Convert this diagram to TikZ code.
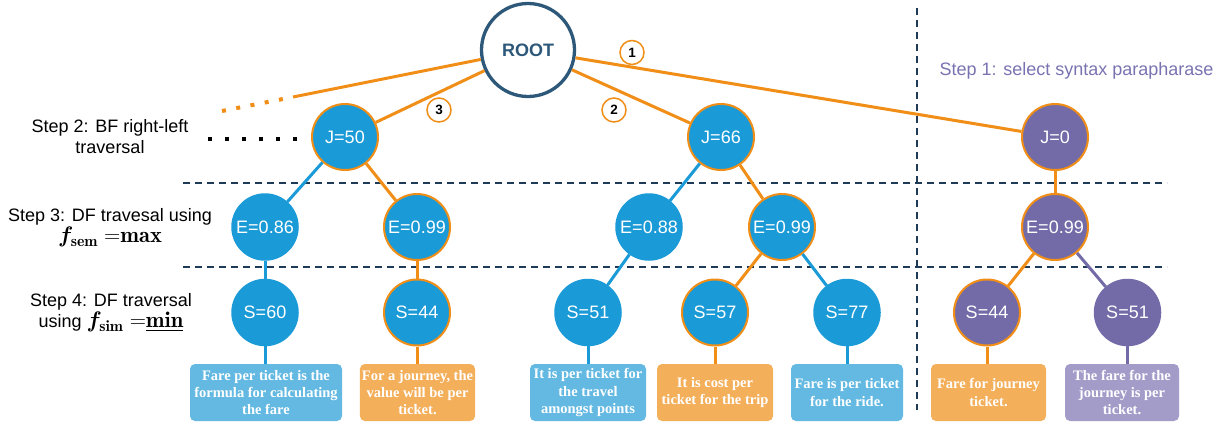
\RequirePackage{fix-cm}
\documentclass[tikz,border=0pt]{standalone}
\usepackage{amsmath,bm}
\usepackage{fontspec}
\newfontfamily\arialf{Liberation Sans}
\newfontfamily\timesf{Liberation Serif}
\usetikzlibrary{shapes.geometric}

\definecolor{nblue}{HTML}{1A9AD6}
\definecolor{npurple}{HTML}{736BA8}
\definecolor{norange}{HTML}{F08E17}
\definecolor{bblue}{HTML}{63B9E1}
\definecolor{borange}{HTML}{F4AF5B}
\definecolor{bpurple}{HTML}{A39CC8}
\definecolor{dashc}{HTML}{1F3A56}
\definecolor{rootc}{HTML}{2D5879}
\definecolor{steppurple}{HTML}{7A73B2}

\newcommand{\bigmath}[1]{{\fontsize{22.5}{21}\selectfont$#1$}}

\begin{document}
\begin{tikzpicture}[x=1pt,y=-1pt,
  tnode/.style={circle, minimum size=66pt, inner sep=0pt, text=white,
    font=\arialf\fontsize{18}{21}\selectfont},
  bnode/.style={tnode, fill=nblue, draw=nblue, line width=1.5pt},
  onode/.style={tnode, fill=nblue, draw=norange, line width=2pt},
  pnode/.style={tnode, fill=npurple, draw=npurple, line width=1.5pt},
  ponode/.style={tnode, fill=npurple, draw=norange, line width=2pt},
  rootnode/.style={circle, minimum size=93pt, inner sep=0pt, draw=rootc,
    line width=3.3pt, fill=white, text=rootc,
    font=\arialf\bfseries\fontsize{18}{21}\selectfont},
  numnode/.style={circle, minimum size=24pt, inner sep=0pt, draw=norange,
    line width=1.5pt, fill=white, font=\arialf\bfseries\fontsize{13.5}{15}\selectfont},
  txtbox/.style={rectangle, rounded corners=5pt, align=center, text=white,
    minimum height=57pt, inner sep=2pt,
    font=\timesf\bfseries\fontsize{14.5}{17.3}\selectfont},
  steplabel/.style={align=center, font=\arialf\fontsize{18}{21}\selectfont},
  oedge/.style={draw=norange, line width=3pt},
  bedge/.style={draw=nblue, line width=3pt},
  pedge/.style={draw=npurple, line width=3pt},
  dashline/.style={draw=dashc, line width=2.2pt, dash pattern=on 7pt off 5pt},
]
\fill[white] (0,0) rectangle (1220,421);
\useasboundingbox (0,0) rectangle (1220,421);

% dashed separators
\coordinate (h1a) at (183,183);
\coordinate (h1b) at (1167,183);
\coordinate (h2a) at (183,267);
\coordinate (h2b) at (1167,267);
\coordinate (v1a) at (917,8);
\coordinate (v1b) at (917,410);
\draw[dashline] (h1a) -- (h1b);
\draw[dashline] (h2a) -- (h2b);
\draw[dashline] (v1a) -- (v1b);

% nodes
\node[rootnode] (root) at (528,50) {ROOT};

\node[onode] (j50) at (345,137) {J=50};
\node[onode] (j66) at (721,137) {J=66};
\node[ponode] (j0) at (1055,137) {J=0};

\node[bnode] (e086) at (265,227) {E=0.86};
\node[onode] (e099a) at (417,227) {E=0.99};
\node[bnode] (e088) at (649,227) {E=0.88};
\node[onode] (e099b) at (782,227) {E=0.99};
\node[ponode] (e099c) at (1055,227) {E=0.99};

\node[bnode] (s60) at (265,312.5) {S=60};
\node[onode] (s44a) at (417,312.5) {S=44};
\node[bnode] (s51a) at (588,312.5) {S=51};
\node[onode] (s57) at (715,312.5) {S=57};
\node[bnode] (s77) at (847,312.5) {S=77};
\node[ponode] (s44b) at (987,312.5) {S=44};
\node[pnode] (s51b) at (1127.5,312.5) {S=51};

% text boxes
\node[txtbox, fill=bblue, minimum width=152pt] (b1) at (266,392.5) {Fare per ticket is the\\formula for calculating\\the fare};
\node[txtbox, fill=borange, minimum width=115pt] (b2) at (417.5,392.5) {For a journey, the\\value will be per\\ticket.};
\node[txtbox, fill=bblue, minimum width=116pt] (b3) at (588,392.5) {It is per ticket for\\the travel\\amongst points};
\node[txtbox, fill=borange, minimum width=116pt] (b4) at (715,392.5) {It is cost per\\ticket for the trip};
\node[txtbox, fill=bblue, minimum width=112pt] (b5) at (847,392.5) {Fare is per ticket\\for the ride.};
\node[txtbox, fill=borange, minimum width=115pt] (b6) at (988.5,392.5) {Fare for journey\\ticket.};
\node[txtbox, fill=bpurple, minimum width=114pt] (b7) at (1122,392.5) {The fare for the\\journey is per\\ticket.};

% root edges
\coordinate (lsolid) at (293,97);
\coordinate (ldots) at (222,111);
\draw[oedge] (root) -- (lsolid);
\draw[draw=norange, line width=4pt, dash pattern=on 4pt off 10.5pt] (ldots) -- (lsolid);
\draw[oedge] (root) -- (j50);
\draw[oedge] (root) -- (j66);
\draw[oedge] (root) -- (j0);

% tree edges
\draw[bedge] (j50) -- (e086);
\draw[oedge] (j50) -- (e099a);
\draw[bedge] (e086) -- (s60);
\draw[oedge] (e099a) -- (s44a);
\draw[bedge] (j66) -- (e088);
\draw[oedge] (j66) -- (e099b);
\draw[bedge] (e088) -- (s51a);
\draw[oedge] (e099b) -- (s57);
\draw[bedge] (e099b) -- (s77);
\draw[oedge] (j0) -- (e099c);
\draw[oedge] (e099c) -- (s44b);
\draw[pedge] (e099c) -- (s51b);

% leaf edges
\draw[bedge] (s60) -- (s60 |- b1.north);
\draw[oedge] (s44a) -- (s44a |- b2.north);
\draw[bedge] (s51a) -- (s51a |- b3.north);
\draw[oedge] (s57) -- (s57 |- b4.north);
\draw[bedge] (s77) -- (s77 |- b5.north);
\draw[oedge] (s44b) -- (s44b |- b6.north);
\draw[pedge] (s51b) -- (s51b |- b7.north);

% order numbers
\node[numnode] (n1) at (632,52.5) {1};
\node[numnode] (n2) at (614,110) {2};
\node[numnode] (n3) at (439,110) {3};

% black dotted line
\coordinate (kd1) at (208,139);
\coordinate (kd2) at (299,139);
\draw[draw=black, line width=4pt, dash pattern=on 4pt off 13pt] (kd1) -- (kd2);

% step labels
\node[steplabel] (st2) at (110,136.5) {Step 2: BF right-left\\traversal};
\node[steplabel] (st3) at (110,228) {Step 3: DF travesal using\\\bigmath{\boldsymbol{f}_{\mathbf{sem}}\ {=}\mathbf{max}}};
\node[steplabel] (st4) at (111,313) {Step 4: DF traversal\\using \bigmath{\boldsymbol{f}_{\mathbf{sim}}\ {=}\underline{\mathbf{min}}}};
\node[steplabel, text=steppurple] (st1) at (1076.5,71) {Step 1: select syntax parapharase};
\end{tikzpicture}
\end{document}
